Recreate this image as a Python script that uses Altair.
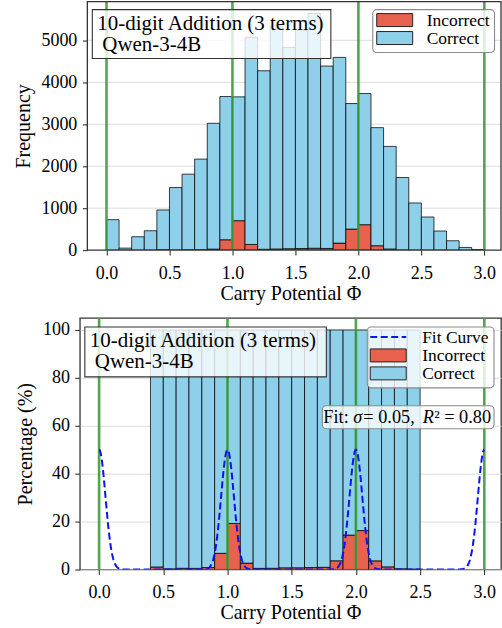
import altair as alt
import numpy as np
import pandas as pd

# ---------------------------------------------------------------- data
# Left edges of the carry-potential bins (width 0.1)
phi_left = [0.0, 0.1, 0.2, 0.3, 0.4, 0.5, 0.6, 0.7, 0.8, 0.9,
            1.0, 1.1, 1.2, 1.3, 1.4, 1.5, 1.6, 1.7, 1.8, 1.9,
            2.0, 2.1, 2.2, 2.3, 2.4, 2.5, 2.6, 2.7, 2.8, 2.9]
correct_counts = [726, 48, 317, 459, 947, 1487, 1801, 2159, 2998, 3413,
                  2950, 4937, 4254, 5316, 4799, 5203, 5595, 4346, 4426, 2991,
                  3126, 2814, 2445, 1725, 1122, 789, 455, 223, 64, 10]
incorrect_counts = [0, 0, 2, 3, 10, 4, 9, 10, 24, 247,
                    702, 135, 20, 27, 34, 37, 45, 40, 167, 502,
                    606, 105, 27, 5, 2, 0, 0, 0, 0, 0]

integer_phi = [0.0, 1.0, 2.0, 3.0]
x_ticks = [0.0, 0.5, 1.0, 1.5, 2.0, 2.5, 3.0]
freq_ticks = [0, 1000, 2000, 3000, 4000, 5000]
pct_ticks = [0, 20, 40, 60, 80, 100]

BIN_WIDTH = 0.1
MIN_COUNT = 900          # bins shown in the percentage panel
FIT_SIGMA = 0.05
FIT_R2 = 0.80
FIT_PEAK = 50.0

TASK_LABEL = "10-digit Addition (3 terms)"
MODEL_LABEL = "Qwen-3-4B"
NB = "\u00a0"
# fit annotation split into runs so the symbols can be italic: (text, style, width in em)
FIT_RUNS = [("Fit:", "normal", 1.64), ("σ", "italic", 0.55),
            (f"{NB}={NB}{FIT_SIGMA:.2f},", "normal", 3.25), ("R", "italic", 0.63),
            (f"²{NB}={NB}{FIT_R2:.2f}", "normal", 3.114)]

# ---------------------------------------------------------------- style
FONT = "Liberation Serif"
C_CORRECT = "#8ecfe9"
C_INCORRECT = "#e8604e"
C_GREEN = "#3a9e3a"
C_FIT = "#0a14f0"
C_FRAME = "#333333"
C_GRID = "#dcdcdc"
SERIES = ["Incorrect", "Correct"]

# ---------------------------------------------------------------- tables
bins = pd.DataFrame({"left": phi_left,
                     "correct": correct_counts,
                     "incorrect": incorrect_counts})
bins["right"] = bins["left"] + BIN_WIDTH
bins["total"] = bins["correct"] + bins["incorrect"]


def stacked(df, inc, tot):
    rows = []
    for (_, r), a, t in zip(df.iterrows(), inc, tot):
        rows.append({"left": r["left"], "right": r["right"], "series": "Incorrect", "y0": 0.0, "y1": a})
        rows.append({"left": r["left"], "right": r["right"], "series": "Correct", "y0": a, "y1": t})
    return pd.DataFrame(rows)


freq_df = stacked(bins, bins["incorrect"], bins["total"])

sel = bins[bins["total"] >= MIN_COUNT].reset_index(drop=True)
pct_inc = sel["incorrect"] / sel["total"] * 100.0
pct_df = stacked(sel, pct_inc, [100.0] * len(sel))

xs = np.linspace(0.0, 3.0, 1201)
fit_y = np.zeros_like(xs)
for c in integer_phi:
    fit_y += FIT_PEAK * np.exp(-((xs - c) ** 2) / (2 * FIT_SIGMA ** 2))
fit_df = pd.DataFrame({"phi": xs, "pct": fit_y})

rules_df = pd.DataFrame({"phi": integer_phi})
grid_df = pd.DataFrame({"y0": freq_ticks[1:]})
one = pd.DataFrame({"k": [0]})

color_scale = alt.Scale(domain=SERIES, range=[C_INCORRECT, C_CORRECT])


def y_enc(ymax, yticks, ytitle, axis_shift, grid):
    return alt.Y("y0:Q", scale=alt.Scale(domain=[0, ymax], nice=False),
                 axis=alt.Axis(values=yticks, format="d", title=ytitle, grid=grid,
                               offset=-axis_shift))


def panel(df, xdom, ymax, yticks, ytitle, axis_shift=0.0, grid=True):
    bars = alt.Chart(df).mark_rect(stroke="black", strokeWidth=1, strokeOpacity=0.75, clip=True).encode(
        x=alt.X("left:Q", scale=alt.Scale(domain=xdom, nice=False, zero=False),
                axis=alt.Axis(values=x_ticks, format=".1f", title="Carry Potential Φ")),
        x2="right:Q",
        y=y_enc(ymax, yticks, ytitle, axis_shift, grid),
        y2="y1:Q",
        color=alt.Color("series:N", scale=color_scale, legend=None),
    )
    rules = alt.Chart(rules_df).mark_rule(color=C_GREEN, strokeWidth=2.6, opacity=0.9, clip=True).encode(
        x="phi:Q")
    return bars, rules


def box(x1, x2, y1, y2, radius=0, stroke=C_FRAME):
    return alt.Chart(one).mark_rect(fill="white", fillOpacity=0.8, stroke=stroke, strokeWidth=1.1,
                                    cornerRadius=radius).encode(
        x=alt.value(x1), x2=alt.value(x2), y=alt.value(y1), y2=alt.value(y2))


def label(x, y, txt, size=21, align="left", baseline="alphabetic", style="normal"):
    return alt.Chart(one).mark_text(font=FONT, fontSize=size, align=align, baseline=baseline,
                                    fontStyle=style, color="black").encode(
        x=alt.value(x), y=alt.value(y), text=alt.value(txt))


def patch(x1, x2, y1, y2, fill):
    return alt.Chart(one).mark_rect(fill=fill, stroke="#222222", strokeWidth=1).encode(
        x=alt.value(x1), x2=alt.value(x2), y=alt.value(y1), y2=alt.value(y2))


def fit_note(x0, y, size=18.3):
    parts, x = [], x0
    for txt, style, em in FIT_RUNS:
        parts.append(label(x, y, txt, size=size, baseline="middle", style=style))
        x += em * size
    return parts


# ---------------------------------------------------------------- top panel
# the frequency panel's frame starts a little to the right of the percentage panel's
S = 7.5
TOP_W, TOP_H = 422, 249
TOP_YMAX = 5922
top_bars, top_rules = panel(freq_df, [-0.2116, 3.1323], TOP_YMAX, freq_ticks, "Frequency",
                            axis_shift=S, grid=False)
top_grid = alt.Chart(grid_df).mark_rule(color=C_GRID, strokeWidth=1).encode(
    y=y_enc(TOP_YMAX, freq_ticks, "Frequency", S, False), x=alt.value(S), x2=alt.value(TOP_W))
top_frame = alt.Chart(one).mark_rect(fillOpacity=0, stroke=C_FRAME, strokeWidth=1.3).encode(
    x=alt.value(S), x2=alt.value(TOP_W), y=alt.value(0), y2=alt.value(TOP_H))
top = alt.layer(
    top_grid, top_bars, top_rules, top_frame,
    box(S + 5, S + 244, 8, 57),
    label(S + 10, 28, TASK_LABEL),
    label(S + 15, 49.5, MODEL_LABEL),
    box(S + 286, S + 408, 8, 51, radius=4, stroke="#8a8a8a"),
    patch(S + 290, S + 326, 12, 25, C_INCORRECT),
    patch(S + 290, S + 326, 30, 43, C_CORRECT),
    label(S + 340, 19, "Incorrect", size=17.5, baseline="middle"),
    label(S + 340, 37, "Correct", size=17.5, baseline="middle"),
).properties(width=TOP_W, height=TOP_H, view=alt.ViewBackground(strokeOpacity=0))

# ---------------------------------------------------------------- bottom panel
BOT_W, BOT_H = 422, 252
bot_bars, bot_rules = panel(pct_df, [-0.15, 3.13], 105, pct_ticks, "Percentage (%)")
fit_line = alt.Chart(fit_df).mark_line(color=C_FIT, strokeWidth=2, strokeDash=[7, 3.5], clip=True).encode(
    x=alt.X("phi:Q"), y=alt.Y("pct:Q"))
legend_line = alt.Chart(one).mark_rule(color=C_FIT, strokeWidth=2, strokeDash=[7, 3.5]).encode(
    x=alt.value(291), x2=alt.value(327), y=alt.value(19))
bottom = alt.layer(
    bot_bars, bot_rules, fit_line,
    box(5, 247, 9, 59),
    label(10, 29, TASK_LABEL),
    label(15, 50.5, MODEL_LABEL),
    box(288, 415, 9, 70, radius=4, stroke="#8a8a8a"),
    legend_line,
    patch(291, 327, 31, 44, C_INCORRECT),
    patch(291, 327, 49, 62, C_CORRECT),
    label(343, 20, "Fit Curve", size=17.5, baseline="middle"),
    label(343, 38, "Incorrect", size=17.5, baseline="middle"),
    label(343, 56, "Correct", size=17.5, baseline="middle"),
    box(243, 415, 88, 111, radius=4, stroke="#8a8a8a"),
    *fit_note(244, 100),
).properties(width=BOT_W, height=BOT_H)

chart = alt.vconcat(top, bottom, spacing=14).properties(
    padding={"left": 14, "top": 0, "right": 0, "bottom": 0},
    autosize=alt.AutoSizeParams(type="pad"),
).configure_axis(
    labelFont=FONT, titleFont=FONT, labelFontSize=18, titleFontSize=20,
    titleFontWeight="normal", labelColor="black", titleColor="black",
    tickColor=C_FRAME, tickSize=5, tickWidth=1.1, domain=False,
    gridColor=C_GRID, gridWidth=1,
).configure_axisX(
    grid=False, labelPadding=9, titlePadding=1,
).configure_axisY(
    labelPadding=5.5, titlePadding=7,
).configure_view(stroke=C_FRAME, strokeWidth=1.3)

chart.save("out.html", embed_options={"renderer": "svg", "actions": False})
